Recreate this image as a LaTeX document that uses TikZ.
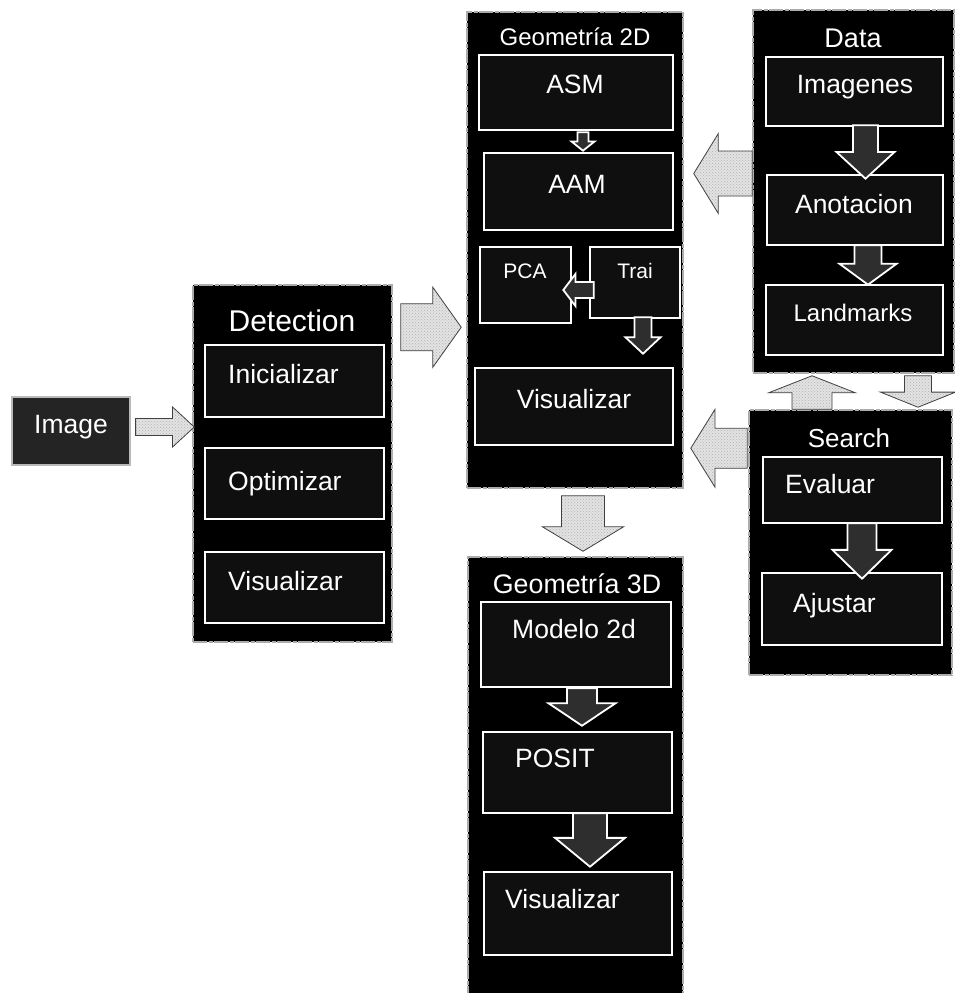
\documentclass[tikz,border=0pt]{standalone}
\usepackage{fontspec}
\setmainfont{Liberation Sans}
\usetikzlibrary{calc,patterns}

% block arrow, horizontal: style, from, to, shaft half-width, head half-width, head base fraction
\newcommand\hblock[6]{%
  \path[#1] let \p1=(#2), \p2=(#3), \p3=($(#2)!#6!(#3)$) in
    (\x1,\y1+#4pt) -- (\x3,\y1+#4pt) -- (\x3,\y1+#5pt) -- (\x2,\y1)
    -- (\x3,\y1-#5pt) -- (\x3,\y1-#4pt) -- (\x1,\y1-#4pt) -- cycle;}
% block arrow, vertical
\newcommand\vblock[6]{%
  \path[#1] let \p1=(#2), \p2=(#3), \p3=($(#2)!#6!(#3)$) in
    (\x1+#4pt,\y1) -- (\x1+#4pt,\y3) -- (\x1+#5pt,\y3) -- (\x1,\y2)
    -- (\x1-#5pt,\y3) -- (\x1-#4pt,\y3) -- (\x1-#4pt,\y1) -- cycle;}

\tikzset{
  panel/.style={draw=gray!65, fill=black, line width=1.5pt,
    dash pattern=on 14pt off 1.5pt on 4pt off 1.5pt, inner sep=0pt},
  stage/.style={draw=white, fill=black!94, line width=2.6pt, inner sep=0pt},
  srcbox/.style={draw=gray!55, fill=black!86, line width=1.2pt, inner sep=0pt},
  txt/.style={text=white, inner sep=0pt, anchor=base, font=\fontsize{26.5}{30}\selectfont},
  ltxt/.style={txt, anchor=base west},
  bigarrow/.style={draw=black!75, line width=0.8pt, preaction={fill=gray!22},
    pattern=crosshatch dots, pattern color=gray!60, line join=miter},
  smallarrow/.style={draw=white, fill=black!82, line width=1.8pt, line join=miter},
}

\begin{document}
\begin{tikzpicture}[x=1pt, y=-1pt]
\useasboundingbox (0,0) rectangle (955,993);

% ---------- containers ----------
\node[panel, minimum width=199pt, minimum height=357pt] (det)    at (292.5,463.5) {};
\node[panel, minimum width=216pt, minimum height=476pt] (g2)     at (575,250) {};
\node[panel, minimum width=201pt, minimum height=363pt] (data)   at (853.5,191.5) {};
\node[panel, minimum width=203pt, minimum height=265pt] (search) at (850.5,542.5) {};
\node[panel, minimum width=215pt, minimum height=443pt] (g3)     at (575.5,778.5) {};

% ---------- source ----------
\node[srcbox, minimum width=118pt, minimum height=68pt] (img) at (71,431) {};
\node[txt] (img-t) at (71,433) {Image};

% ---------- Detection ----------
\node[txt, font=\fontsize{30}{33}\selectfont] (det-t) at (292,331) {Detection};
\node[stage, minimum width=179pt, minimum height=72pt] (inic)  at (294.5,381) {};
\node[stage, minimum width=179pt, minimum height=71pt] (optim) at (294.5,483.5) {};
\node[stage, minimum width=179pt, minimum height=71pt] (visd)  at (294.5,587.5) {};
\node[ltxt] (inic-t)  at (228,383) {Inicializar};
\node[ltxt] (optim-t) at (228,490) {Optimizar};
\node[ltxt] (visd-t)  at (228,590) {Visualizar};

% ---------- Geometría 2D ----------
\node[txt, font=\fontsize{24}{27}\selectfont] (g2-t) at (575,45) {Geometría 2D};
\node[stage, minimum width=194pt, minimum height=75pt] (asm)  at (576,92.5) {};
\node[stage, minimum width=189pt, minimum height=77pt] (aam)  at (578.5,191.5) {};
\node[stage, minimum width=91pt,  minimum height=76pt] (pca)  at (525.5,285) {};
\node[stage, minimum width=90pt,  minimum height=71pt] (trai) at (635,282.5) {};
\node[stage, minimum width=198pt, minimum height=77pt] (vis2) at (574,406.5) {};
\node[txt] (asm-t) at (575,93) {ASM};
\node[txt] (aam-t) at (577,193) {AAM};
\node[txt, font=\fontsize{21}{24}\selectfont] (pca-t)  at (525,278) {PCA};
\node[txt, font=\fontsize{21}{24}\selectfont] (trai-t) at (635,278) {Trai};
\node[txt] (vis2-t) at (574,408) {Visualizar};

% ---------- Data ----------
\node[txt, font=\fontsize{27}{30}\selectfont] (data-t) at (853,47) {Data};
\node[stage, minimum width=177pt, minimum height=69pt] (imgs) at (854.5,91.5) {};
\node[stage, minimum width=176pt, minimum height=70pt] (anot) at (855,210) {};
\node[stage, minimum width=177pt, minimum height=70pt] (land) at (854.5,320) {};
\node[txt] (imgs-t) at (855,93) {Imagenes};
\node[txt] (anot-t) at (854,213) {Anotacion};
\node[txt, font=\fontsize{24}{27}\selectfont] (land-t) at (853,321) {Landmarks};

% ---------- Search ----------
\node[txt, font=\fontsize{26}{29}\selectfont] (search-t) at (849,447) {Search};
\node[stage, minimum width=179pt, minimum height=66pt] (eval) at (852.5,490) {};
\node[stage, minimum width=180pt, minimum height=72pt] (ajus) at (852,609) {};
\node[ltxt] (eval-t) at (785,493) {Evaluar};
\node[ltxt] (ajus-t) at (793,612) {Ajustar};

% ---------- Geometría 3D ----------
\node[txt, font=\fontsize{26.8}{30}\selectfont] (g3-t) at (577,593) {Geometría 3D};
\node[stage, minimum width=190pt, minimum height=85pt] (mod)   at (576,644.5) {};
\node[stage, minimum width=189pt, minimum height=81pt] (posit) at (577.5,772.5) {};
\node[stage, minimum width=188pt, minimum height=83pt] (vis3)  at (578,913.5) {};
\node[ltxt] (mod-t)   at (512,638) {Modelo 2d};
\node[ltxt] (posit-t) at (515,767) {POSIT};
\node[ltxt] (vis3-t)  at (505,908) {Visualizar};

% ---------- arrows between panels ----------
\coordinate (a1s) at ($(img.east)+(5,-4)$);
\coordinate (a1e) at ($(a1s -| det.west)+(2,0)$);
\hblock{bigarrow}{a1s}{a1e}{8.5}{20}{0.63}

\coordinate (a2s) at ($(det.north east)+(8,43)$);
\coordinate (a2e) at ($(a2s -| g2.west)+(-5,0)$);
\hblock{bigarrow}{a2s}{a2e}{23.5}{40}{0.53}

\coordinate (a3s) at ($(data.west)+(0,-18)$);
\coordinate (a3e) at ($(a3s -| g2.east)+(10,0)$);
\hblock{bigarrow}{a3s}{a3e}{22.5}{40}{0.58}

\coordinate (a4s) at ($(search.north west)+(-1,39)$);
\coordinate (a4e) at ($(a4s -| g2.east)+(7,0)$);
\hblock{bigarrow}{a4s}{a4e}{20}{39}{0.57}

\coordinate (a5s) at ($(search.north)+(-38.5,0)$);
\coordinate (a5e) at ($(a5s |- data.south)+(0,2)$);
\vblock{bigarrow}{a5s}{a5e}{20}{43.5}{0.49}

\coordinate (a6s) at ($(data.south)+(64.5,2)$);
\coordinate (a6e) at ($(a6s |- search.north)+(0,-2)$);
\vblock{bigarrow}{a6s}{a6e}{13.5}{37.5}{0.52}

\coordinate (a7s) at ($(g2.south)+(8,7)$);
\coordinate (a7e) at ($(a7s |- g3.north)+(0,-5)$);
\vblock{bigarrow}{a7s}{a7e}{21.5}{40.5}{0.56}

% ---------- arrows inside panels ----------
\coordinate (s1s) at ($(asm.south)+(7,1)$);
\coordinate (s1e) at ($(s1s |- aam.north)+(0,-1)$);
\vblock{smallarrow}{s1s}{s1e}{5.5}{11.5}{0.5}

\coordinate (s2s) at ($(imgs.south)+(11,-2)$);
\coordinate (s2e) at ($(s2s |- anot.north)+(0,5)$);
\vblock{smallarrow}{s2s}{s2e}{12.5}{29}{0.5}

\coordinate (s3s) at ($(anot.south)+(13,-1)$);
\coordinate (s3e) at ($(s3s |- land.north)+(0,1)$);
\vblock{smallarrow}{s3s}{s3e}{13.5}{28.5}{0.47}

\coordinate (s4s) at ($(trai.west)+(5,7.5)$);
\coordinate (s4e) at ($(s4s -| pca.east)+(-9,0)$);
\hblock{smallarrow}{s4s}{s4e}{8}{16}{0.6}

\coordinate (s5s) at ($(trai.south)+(8,-2)$);
\coordinate (s5e) at ($(s5s |- vis2.north)+(0,-13)$);
\vblock{smallarrow}{s5s}{s5e}{8.5}{17.5}{0.55}

\coordinate (s6s) at ($(eval.south)+(9.5,-1)$);
\coordinate (s6e) at ($(s6s |- ajus.north)+(0,7)$);
\vblock{smallarrow}{s6s}{s6e}{14.5}{29.5}{0.48}

\coordinate (s7s) at ($(mod.south)+(6,0)$);
\coordinate (s7e) at ($(s7s |- posit.north)+(0,-5)$);
\vblock{smallarrow}{s7s}{s7e}{15}{33.5}{0.4}

\coordinate (s8s) at ($(posit.south)+(12.5,-1)$);
\coordinate (s8e) at ($(s8s |- vis3.north)+(0,-4)$);
\vblock{smallarrow}{s8s}{s8e}{17}{35}{0.46}

\end{tikzpicture}
\end{document}
